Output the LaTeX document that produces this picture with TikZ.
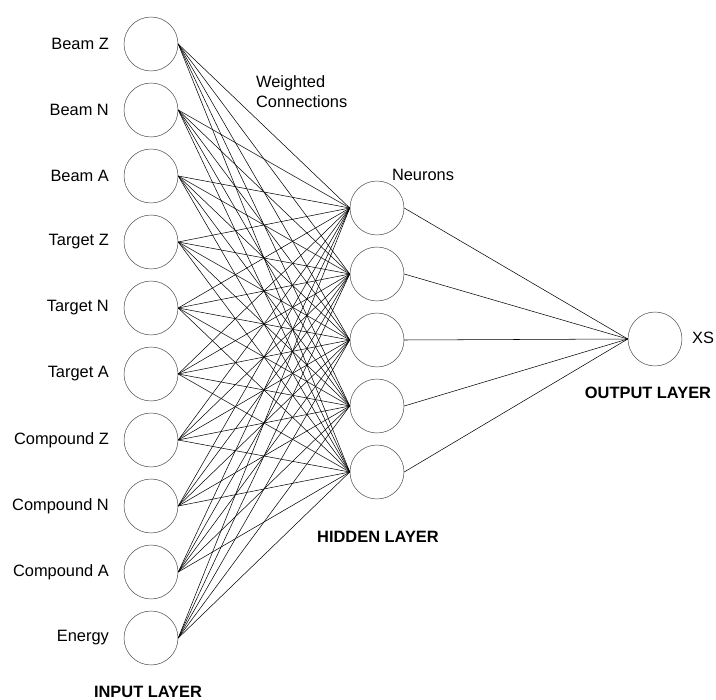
\documentclass[tikz,border=0pt]{standalone}
\usepackage{fontspec}
\setmainfont{Liberation Sans}
\tikzset{
    neuron/.style={circle, draw=black!75, minimum size=54\unitpx, inner sep=0pt},
    lbl/.style={font=\fontsize{14}{17}\selectfont},
    layer/.style={font=\fontsize{14}{17}\selectfont\bfseries},
    wire/.style={line width=0.45pt}
}
\newlength{\unitpx}
\setlength{\unitpx}{0.03cm}
\begin{document}
\begin{tikzpicture}[x=0.03cm, y=-0.03cm]
    \useasboundingbox (0, 0) rectangle (716, 700);

    % input layer
    \node[neuron] (in1) at (151, 44) {};
    \node[neuron] (in2) at (151, 110) {};
    \node[neuron] (in3) at (151, 176) {};
    \node[neuron] (in4) at (151, 242) {};
    \node[neuron] (in5) at (151, 308) {};
    \node[neuron] (in6) at (151, 374) {};
    \node[neuron] (in7) at (151, 440) {};
    \node[neuron] (in8) at (151, 506) {};
    \node[neuron] (in9) at (151, 572) {};
    \node[neuron] (in10) at (151, 638) {};

    \node[lbl, anchor=east] at (113, 44) {Beam Z};
    \node[lbl, anchor=east] at (113, 110) {Beam N};
    \node[lbl, anchor=east] at (113, 176) {Beam A};
    \node[lbl, anchor=east] at (113, 242) {Target Z};
    \node[lbl, anchor=east] at (113, 308) {Target N};
    \node[lbl, anchor=east] at (113, 374) {Target A};
    \node[lbl, anchor=east] at (113, 440) {Compound Z};
    \node[lbl, anchor=east] at (113, 506) {Compound N};
    \node[lbl, anchor=east] at (113, 572) {Compound A};
    \node[lbl, anchor=east] at (113, 638) {Energy};

    % hidden layer
    \node[neuron] (h1) at (377, 208) {};
    \node[neuron] (h2) at (377, 274) {};
    \node[neuron] (h3) at (377, 340) {};
    \node[neuron] (h4) at (377, 406) {};
    \node[neuron] (h5) at (377, 472) {};

    % output layer
    \node[neuron] (out) at (655, 339) {};
    \node[lbl, anchor=west] at (688, 338) {XS};

    % weighted connections
    \foreach \i in {1,...,10}
        \foreach \j in {1,...,5}
            \draw[wire] (in\i.east) -- (h\j.west);
    \foreach \j in {1,...,5}
        \draw[wire] (h\j.east) -- (out.west);

    % annotations
    \node[lbl, anchor=west, align=left] at (252, 92) {Weighted\\Connections};
    \node[lbl] at (423, 175) {Neurons};

    \node[layer] at (148, 692) {INPUT LAYER};
    \node[layer] at (378, 537) {HIDDEN LAYER};
    \node[layer] at (648, 393) {OUTPUT LAYER};
\end{tikzpicture}
\end{document}
